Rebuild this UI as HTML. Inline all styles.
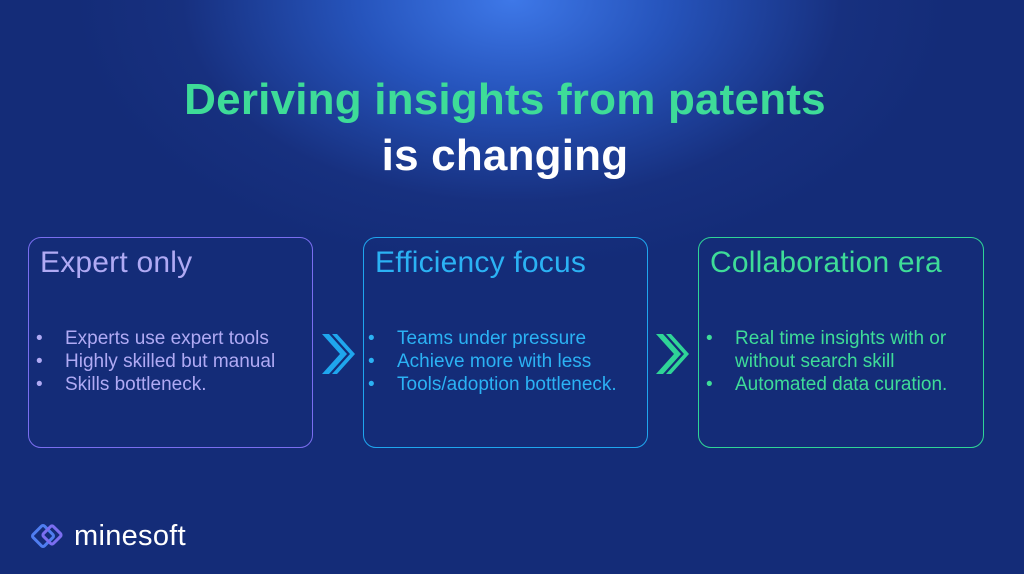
<!DOCTYPE html>
<html><head><style>
body{margin:0;width:1024px;height:574px;overflow:hidden;font-family:"Liberation Sans",sans-serif;
background:radial-gradient(ellipse 440px 270px at 512px 0px,#3e78e8 0%,#2654bc 35%,#17307f 75%,#142c78 100%);background-color:#142c78;position:relative}
.t{position:absolute;left:-7px;width:1024px;text-align:center;font-size:44px;line-height:50px;font-weight:bold;letter-spacing:0.2px}
.box{position:absolute;top:237px;height:211px;border:1.5px solid;border-radius:13px;box-sizing:border-box}
.box h2{margin:0;position:absolute;left:11px;top:8px;font-weight:normal;font-size:30px;letter-spacing:0.2px}
.box ul{position:absolute;left:0;top:89px;margin:0;padding:0;list-style:none;font-size:19px;line-height:23px;width:280px}
.box li{position:relative;padding-left:36px}
.box li:before{content:"•";position:absolute;left:7px}
</style></head><body>
<div class="t" style="top:75px;color:#3edc98">Deriving insights from patents</div>
<div class="t" style="top:131px;color:#fff">is changing</div>

<div class="box" style="left:28px;width:285px;border-color:#7a6ef0;color:#b0aaf4">
<h2>Expert only</h2>
<ul><li>Experts use expert tools</li><li>Highly skilled but manual</li><li>Skills bottleneck.</li></ul></div>

<div class="box" style="left:363px;width:285px;border-color:#1fa6ee;color:#2bb2f4">
<h2>Efficiency focus</h2>
<ul style="left:-3px"><li>Teams under pressure</li><li>Achieve more with less</li><li>Tools/adoption bottleneck.</li></ul></div>

<div class="box" style="left:698px;width:286px;border-color:#2fd497;color:#3edc98">
<h2>Collaboration era</h2>
<ul><li>Real time insights with or without search skill</li><li>Automated data curation.</li></ul></div>

<svg style="position:absolute;left:320px;top:332px" width="40" height="46"><path d="M2 2 L9 2 L27 22 L9 42 L2 42 L20 22Z M12 2 L17 2 L35 22 L17 42 L12 42 L30 22Z" fill="#1fa6ee"/></svg>
<svg style="position:absolute;left:654px;top:332px" width="40" height="46"><path d="M2 2 L9 2 L27 22 L9 42 L2 42 L20 22Z M12 2 L17 2 L35 22 L17 42 L12 42 L30 22Z" fill="#2fd497"/></svg>

<svg style="position:absolute;left:28px;top:522px" width="44" height="34"><rect x="7" y="6" width="16" height="16" transform="rotate(45 15 14)" fill="none" stroke="#4f7df0" stroke-width="3" rx="2"/><rect x="17" y="6" width="14" height="14" transform="rotate(45 24 13)" fill="none" stroke="#7b6ef0" stroke-width="3" rx="2"/></svg>
<div style="position:absolute;left:74px;top:520px;color:#fff;font-size:29px;letter-spacing:0.3px">minesoft</div>
</body></html>
